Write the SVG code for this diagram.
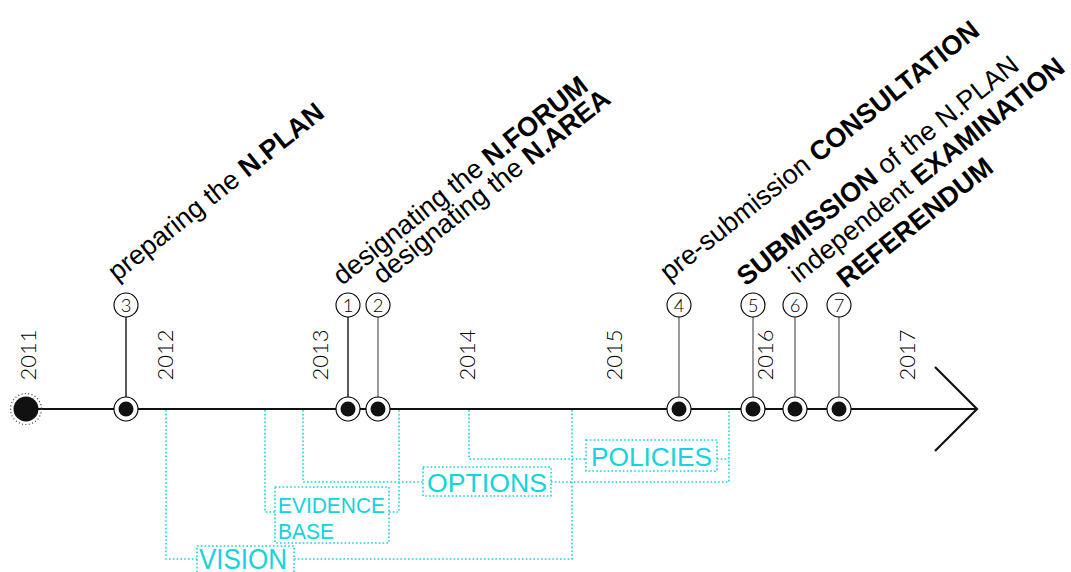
<svg xmlns="http://www.w3.org/2000/svg" width="1071" height="572" viewBox="0 0 1071 572">
<style>
.yr{font-family:Lato,"DejaVu Sans","Liberation Sans",sans-serif;font-weight:300;font-size:22px;fill:#000;text-anchor:middle}
.num{font-family:Lato,"DejaVu Sans","Liberation Sans",sans-serif;font-weight:300;font-size:18.5px;fill:#000;text-anchor:middle}
.ev{font-family:"Liberation Sans",Arial,sans-serif;font-size:27px;fill:#000}
.b{font-weight:bold}
.cy{fill:none;stroke:#12d4dc;stroke-width:1.6;stroke-dasharray:1.6 2.2}
.cyt{font-family:"Liberation Sans",Arial,sans-serif;fill:#12d4dc}
.ring{fill:#fff;stroke:#000;stroke-width:1.1}
.dot{fill:#111}
.stem{stroke:#000;stroke-width:1.3}
.stem2{stroke:#666;stroke-width:1.3}
</style>
<defs>
<g id="mk"><circle r="12" class="ring"/><circle r="7.5" class="dot"/></g>
</defs>

<g id="connectors">
<path class="cy" d="M166,410 V559 H197 M294,559 H572 V410"/>
<path class="cy" d="M265,410 V512 H275 M389,512 H399 V410"/>
<path class="cy" d="M303,410 V482 H423 M551,482 H729 V410"/>
<path class="cy" d="M469,410 V459 H586 M717,459 H729"/>
<line class="stem" x1="126" y1="317" x2="126" y2="409"/>
<line class="stem" x1="348" y1="317" x2="348" y2="409"/>
<line class="stem2" x1="378" y1="317" x2="378" y2="409"/>
<line class="stem2" x1="679" y1="317" x2="679" y2="409"/>
<line class="stem2" x1="753" y1="317" x2="753" y2="409"/>
<line class="stem2" x1="795" y1="317" x2="795" y2="409"/>
<line class="stem2" x1="839" y1="317" x2="839" y2="409"/>
</g>

<g id="timeline">
<line x1="26" y1="409" x2="977" y2="409" stroke="#111" stroke-width="2.2"/>
<polyline points="935,367 977,409 935,451" fill="none" stroke="#111" stroke-width="2.2"/>
</g>

<g id="years">
<text class="yr" transform="translate(36,355) rotate(-90)">2011</text>
<text class="yr" transform="translate(173,355) rotate(-90)">2012</text>
<text class="yr" transform="translate(328,355) rotate(-90)">2013</text>
<text class="yr" transform="translate(475,355) rotate(-90)">2014</text>
<text class="yr" transform="translate(622,355) rotate(-90)">2015</text>
<text class="yr" transform="translate(773,355) rotate(-90)">2016</text>
<text class="yr" transform="translate(915,355) rotate(-90)">2017</text>
</g>

<g id="start-2011">
<circle cx="26" cy="409" r="15.5" fill="none" stroke="#333" stroke-width="1.2" stroke-dasharray="1 2.4"/>
<circle cx="26" cy="409" r="12.5" class="dot"/>
</g>

<g id="event-3">
<use href="#mk" x="126" y="409"/>
<circle cx="126" cy="305" r="12" class="ring"/>
<text class="num" x="126" y="311.5">3</text>
<text class="ev" transform="translate(117,282) rotate(-38.5)">preparing the <tspan class="b">N.PLAN</tspan></text>
</g>

<g id="event-1">
<use href="#mk" x="348" y="409"/>
<circle cx="348" cy="305" r="12" class="ring"/>
<text class="num" x="348" y="311.5">1</text>
<text class="ev" transform="translate(342,286) rotate(-38.5)">designating the <tspan class="b">N.FORUM</tspan></text>
</g>

<g id="event-2">
<use href="#mk" x="378" y="409"/>
<circle cx="378" cy="305" r="12" class="ring"/>
<text class="num" x="378" y="311.5">2</text>
<text class="ev" transform="translate(382,285) rotate(-38.5)">designating the <tspan class="b">N.AREA</tspan></text>
</g>

<g id="event-4">
<use href="#mk" x="679" y="409"/>
<circle cx="679" cy="305" r="12" class="ring"/>
<text class="num" x="679" y="311.5">4</text>
<text class="ev" transform="translate(669,282) rotate(-38.5)">pre-submission <tspan class="b">CONSULTATION</tspan></text>
</g>

<g id="event-5">
<use href="#mk" x="753" y="409"/>
<circle cx="753" cy="305" r="12" class="ring"/>
<text class="num" x="753" y="311.5">5</text>
<text class="ev" transform="translate(746,287) rotate(-38.5)"><tspan class="b">SUBMISSION</tspan> of the N.PLAN</text>
</g>

<g id="event-6">
<use href="#mk" x="795" y="409"/>
<circle cx="795" cy="305" r="12" class="ring"/>
<text class="num" x="795" y="311.5">6</text>
<text class="ev" transform="translate(798,284) rotate(-38.5)">independent <tspan class="b">EXAMINATION</tspan></text>
</g>

<g id="event-7">
<use href="#mk" x="839" y="409"/>
<circle cx="839" cy="305" r="12" class="ring"/>
<text class="num" x="839" y="311.5">7</text>
<text class="ev b" transform="translate(846,289) rotate(-38.5)">REFERENDUM</text>
</g>

<g id="phase-vision">
<rect class="cy" x="197" y="546" width="97" height="32"/>
<text class="cyt" x="199" y="569" font-size="29" textLength="88" lengthAdjust="spacingAndGlyphs">VISION</text>
</g>

<g id="phase-evidence">
<rect class="cy" x="275" y="487" width="114" height="56"/>
<text class="cyt" x="278" y="513" font-size="22" textLength="107" lengthAdjust="spacingAndGlyphs">EVIDENCE</text>
<text class="cyt" x="278" y="539" font-size="22" textLength="56" lengthAdjust="spacingAndGlyphs">BASE</text>
</g>

<g id="phase-options">
<rect class="cy" x="423" y="467" width="128" height="29"/>
<text class="cyt" x="427" y="492" font-size="26" textLength="120" lengthAdjust="spacingAndGlyphs">OPTIONS</text>
</g>

<g id="phase-policies">
<rect class="cy" x="586" y="440" width="131" height="31"/>
<text class="cyt" x="591" y="466" font-size="25" textLength="121" lengthAdjust="spacingAndGlyphs">POLICIES</text>
</g>
</svg>
